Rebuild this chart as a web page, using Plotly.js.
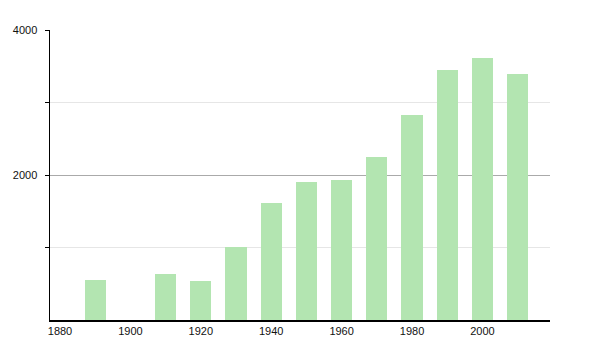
<!DOCTYPE html>
<html>
<head>
<meta charset="utf-8">
<script src="https://cdn.plot.ly/plotly-3.0.1.min.js"></script>
<style>html,body{margin:0;padding:0;background:#fff;}#chart{width:600px;height:350px;}</style>
</head>
<body>
<div id="chart"></div>
<script>
const years = [1890, 1910, 1920, 1930, 1940, 1950, 1960, 1970, 1980, 1990, 2000, 2010];
const population = [552, 634, 538, 1007, 1618, 1903, 1931, 2244, 2823, 3448, 3610, 3393];
const xTickVals = [1880, 1900, 1920, 1940, 1960, 1980, 2000];
const yTickVals = [2000, 4000];
const yMinorVals = [1000, 3000];

const trace = {
  type: 'bar',
  x: years,
  y: population,
  width: 6,
  marker: {color: '#b3e5b1', line: {width: 0}},
  hoverinfo: 'x+y'
};

const layout = {
  width: 600, height: 350,
  margin: {l: 50, r: 50, t: 30, b: 30},
  paper_bgcolor: '#fff', plot_bgcolor: '#fff',
  showlegend: false,
  font: {family: 'Liberation Sans, Arial, sans-serif', size: 11, color: '#000'},
  xaxis: {
    range: [1877.16, 2019.2],
    tickvals: xTickVals,
    ticktext: xTickVals.map(String),
    ticks: '', showgrid: false, zeroline: false,
    showline: true, linecolor: '#000', linewidth: 1.5,
    tickfont: {size: 11, color: '#111'}
  },
  yaxis: {
    range: [0, 4000],
    tickvals: yTickVals,
    ticktext: yTickVals.map(String),
    ticks: 'outside', ticklen: 4, tickcolor: '#000',
    ticklabelstandoff: 5,
    showgrid: true, gridcolor: '#aaaaaa', gridwidth: 1,
    zeroline: false,
    showline: true, linecolor: '#000', linewidth: 1.5,
    tickfont: {size: 11, color: '#111'},
    minor: {tickvals: yMinorVals, ticks: 'outside', ticklen: 4, tickcolor: '#000', showgrid: true, gridcolor: '#e6e6e6', gridwidth: 1}
  },
  bargap: 0
};

Plotly.newPlot('chart', [trace], layout, {displayModeBar: false, staticPlot: true});
</script>
</body>
</html>
